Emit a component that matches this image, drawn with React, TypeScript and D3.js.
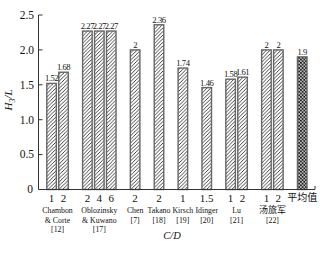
import React from "react";
import * as d3 from "d3";

const values = [1.52, 1.68, 2.27, 2.27, 2.27, 2, 2.36, 1.74, 1.46, 1.58, 1.61, 2, 2, 1.9];
const valueLabels = ["1.52", "1.68", "2.27", "2.27", "2.27", "2", "2.36", "1.74", "1.46", "1.58", "1.61", "2", "2", "1.9"];
const barTicks = ["1", "2", "2", "4", "6", "2", "2", "1", "1.5", "1", "2", "1", "2", "平均值"];
const groupOf = [0, 0, 1, 1, 1, 2, 3, 4, 5, 6, 6, 7, 7, 8];
const groupNames = [
  ["Chambon", "& Corte", "[12]"],
  ["Oblozinsky", "& Kuwano", "[17]"],
  ["Chen", "[7]"],
  ["Takano", "[18]"],
  ["Kirsch", "[19]"],
  ["Idinger", "[20]"],
  ["Lu", "[21]"],
  ["汤旅军", "[22]"],
  [],
];
const yTicks = [0, 0.5, 1.0, 1.5, 2.0, 2.5];

const FONT = "'Liberation Serif', 'Times New Roman', serif";
const CJK = "'Noto Sans CJK SC', sans-serif";

export default function App() {
  const W = 331, H = 255;
  const x = d3.scaleBand<number>().domain(d3.range(22)).range([45.6, 308.2]).paddingInner(0.2).paddingOuter(0.1);
  const y = d3.scaleLinear().domain([0, 2.5]).range([189.5, 15]);
  const slot = (i: number) => i + groupOf[i];
  const bw = x.bandwidth();
  const x0 = 38.5;
  const xEnd = 315;

  const groups = d3.range(groupNames.length).map((g) => {
    const idx = d3.range(values.length).filter((i) => groupOf[i] === g);
    const cx = d3.mean(idx.map((i) => (x(slot(i)) as number) + bw / 2)) as number;
    return { g, cx, lines: groupNames[g] };
  });

  return (
    <svg width={W} height={H} style={{ position: "absolute", left: 0, top: 0, background: "#fff" }}>
      <defs>
        <pattern id="hatch" patternUnits="userSpaceOnUse" width="3.6" height="3.6">
          <rect width="3.6" height="3.6" fill="#fff" />
          <path d="M-0.9,0.9 L0.9,-0.9 M0,3.6 L3.6,0 M2.7,4.5 L4.5,2.7" stroke="#222" strokeWidth="0.85" />
        </pattern>
        <pattern id="cross" patternUnits="userSpaceOnUse" width="3.4" height="3.4">
          <rect width="3.4" height="3.4" fill="#fff" />
          <path d="M0,3.4 L3.4,0 M-0.85,0.85 L0.85,-0.85 M2.55,4.25 L4.25,2.55 M0,0 L3.4,3.4 M-0.85,2.55 L0.85,4.25 M2.55,-0.85 L4.25,0.85" stroke="#111" strokeWidth="0.9" />
        </pattern>
      </defs>

      {values.map((v, i) => {
        const bx = x(slot(i)) as number;
        const isMean = i === values.length - 1;
        return (
          <g key={i}>
            <rect x={bx} y={y(v)} width={bw} height={y(0) - y(v)} fill={isMean ? "url(#cross)" : "url(#hatch)"} stroke="#666" strokeWidth={1.4} />
            <text x={bx + bw / 2} y={y(v) - 2} textAnchor="middle" fontFamily={FONT} fontSize={8.6} letterSpacing={-0.45} fill="#111">{valueLabels[i]}</text>
            {isMean ? (
              <text x={bx + bw / 2} y={201} textAnchor="middle" fontFamily={CJK} fontSize={10} fill="#111">{barTicks[i]}</text>
            ) : (
              <text x={bx + bw / 2} y={201.5} textAnchor="middle" fontFamily={FONT} fontSize={11} fill="#111">{barTicks[i]}</text>
            )}
          </g>
        );
      })}

      {groups.map(({ g, cx, lines }) =>
        lines.map((t, k) => {
          const isCJK = /[\u4e00-\u9fff]/.test(t);
          return (
            <text key={g + "-" + k} x={cx} y={213 + k * 9.6} textAnchor="middle" fontFamily={isCJK ? CJK : FONT} fontSize={isCJK ? 9 : 7.8} fill="#111">{t}</text>
          );
        })
      )}

      {/* axes */}
      <line x1={x0} y1={y(0)} x2={xEnd} y2={y(0)} stroke="#333" strokeWidth={1} />
      <line x1={xEnd} y1={y(0)} x2={xEnd} y2={y(0) - 3.5} stroke="#333" strokeWidth={1} />
      <line x1={x0} y1={y(0)} x2={x0} y2={y(2.5)} stroke="#333" strokeWidth={1} />
      {yTicks.map((t) => (
        <g key={t}>
          {t > 0 && <line x1={x0} y1={y(t)} x2={x0 + 4} y2={y(t)} stroke="#333" strokeWidth={1} />}
          <text x={t === 0 ? 33 : 34} y={y(t) + 3.8} textAnchor="end" fontFamily={FONT} fontSize={11.5} fill="#111">{t === 0 ? "0" : t.toFixed(1)}</text>
        </g>
      ))}

      <text transform="translate(12,100) rotate(-90)" textAnchor="middle" fontFamily={FONT} fontStyle="italic" fontSize={11} fill="#111">
        H<tspan fontSize={8} dy={2.5}>3</tspan><tspan dy={-2.5}>/L</tspan>
      </text>
      <text x={172} y={239} textAnchor="middle" fontFamily={FONT} fontStyle="italic" fontSize={10.5} fill="#111">C/D</text>
    </svg>
  );
}
